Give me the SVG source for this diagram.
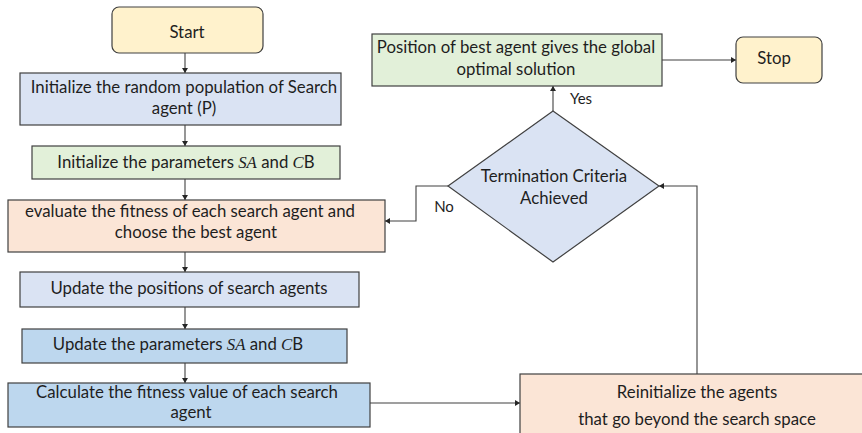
<svg xmlns="http://www.w3.org/2000/svg" width="862" height="433" viewBox="0 0 862 433">
  <style>
    .box { stroke: #404040; stroke-width: 1.2; }
    .term { fill: #fff2cc; }
    .lblue { fill: #dae3f3; }
    .green { fill: #e2f0d9; }
    .peach { fill: #fbe5d6; }
    .mblue { fill: #bdd7ee; }
    text { font-family: Lato, "Liberation Sans", sans-serif; font-size: 16.8px; fill: #1e1e1e; text-anchor: middle; }
    .small { font-size: 15px; }
    .m { font-family: "Liberation Serif", serif; font-style: italic; }
    .link { fill: none; stroke: #404040; stroke-width: 1.1; }
  </style>
  <defs>
    <marker id="arrow" markerUnits="userSpaceOnUse" markerWidth="6" markerHeight="6" refX="5" refY="3" orient="auto">
      <path d="M0,0 L5,3 L0,6 z" fill="#262626"/>
    </marker>
  </defs>

  <g id="connectors">
    <line class="link" x1="185" y1="53" x2="185" y2="73" marker-end="url(#arrow)"/>
    <line class="link" x1="185" y1="125" x2="185" y2="146" marker-end="url(#arrow)"/>
    <line class="link" x1="185" y1="179" x2="185" y2="200" marker-end="url(#arrow)"/>
    <line class="link" x1="185" y1="252" x2="185" y2="272" marker-end="url(#arrow)"/>
    <line class="link" x1="185" y1="307" x2="185" y2="329" marker-end="url(#arrow)"/>
    <line class="link" x1="185" y1="363" x2="185" y2="383" marker-end="url(#arrow)"/>
    <line class="link" x1="370" y1="403" x2="520" y2="403" marker-end="url(#arrow)"/>
    <polyline class="link" points="697,374 697,186 659,186" stroke="#7f7f7f" marker-end="url(#arrow)"/>
    <polyline class="link" points="448,186 416,186 416,221 385,221" marker-end="url(#arrow)"/>
    <line class="link" x1="553" y1="111" x2="553" y2="86" marker-end="url(#arrow)"/>
    <line class="link" x1="662" y1="60" x2="736" y2="60" marker-end="url(#arrow)"/>
    <text x="581" y="104" class="small">Yes</text>
    <text x="444" y="212" class="small">No</text>
  </g>

  <g id="start">
    <rect class="box term" x="112" y="7" width="151" height="46" rx="7"/>
    <text x="187" y="38">Start</text>
  </g>

  <g id="init-population">
    <rect class="box lblue" x="20" y="73" width="321" height="52"/>
    <text x="184" y="93">Initialize the random population of Search</text>
    <text x="184" y="114">agent (P)</text>
  </g>

  <g id="init-parameters">
    <rect class="box green" x="32" y="146" width="308" height="33"/>
    <text x="186" y="168">Initialize the parameters <tspan class="m">SA</tspan> and <tspan class="m">C</tspan>B</text>
  </g>

  <g id="evaluate-fitness">
    <rect class="box peach" x="8" y="200" width="377" height="52"/>
    <text x="190" y="217">evaluate the fitness of each search agent  and</text>
    <text x="196" y="238">choose the best agent</text>
  </g>

  <g id="update-positions">
    <rect class="box lblue" x="20" y="272" width="339" height="35"/>
    <text x="189" y="294">Update the positions of search agents</text>
  </g>

  <g id="update-parameters">
    <rect class="box mblue" x="22" y="329" width="325" height="34"/>
    <text x="178" y="350">Update the parameters <tspan class="m">SA</tspan> and <tspan class="m">C</tspan>B</text>
  </g>

  <g id="calculate-fitness">
    <rect class="box mblue" x="8" y="383" width="362" height="44"/>
    <text x="187" y="398">Calculate the fitness value of each search</text>
    <text x="191" y="418">agent</text>
  </g>

  <g id="reinitialize">
    <rect class="box peach" x="520" y="374" width="354" height="70"/>
    <text x="697" y="398">Reinitialize the agents</text>
    <text x="697" y="425">that go beyond the search space</text>
  </g>

  <g id="termination">
    <polygon class="box lblue" points="553,111 659,186 553,262 448,186"/>
    <text x="554" y="182">Termination Criteria</text>
    <text x="554" y="204">Achieved</text>
  </g>

  <g id="best-position">
    <rect class="box green" x="372" y="34" width="290" height="52"/>
    <text x="516" y="53">Position of best agent gives the global</text>
    <text x="516" y="75">optimal solution</text>
  </g>

  <g id="stop">
    <rect class="box term" x="736" y="37" width="86" height="46" rx="7"/>
    <text x="774" y="64">Stop</text>
  </g>
</svg>
